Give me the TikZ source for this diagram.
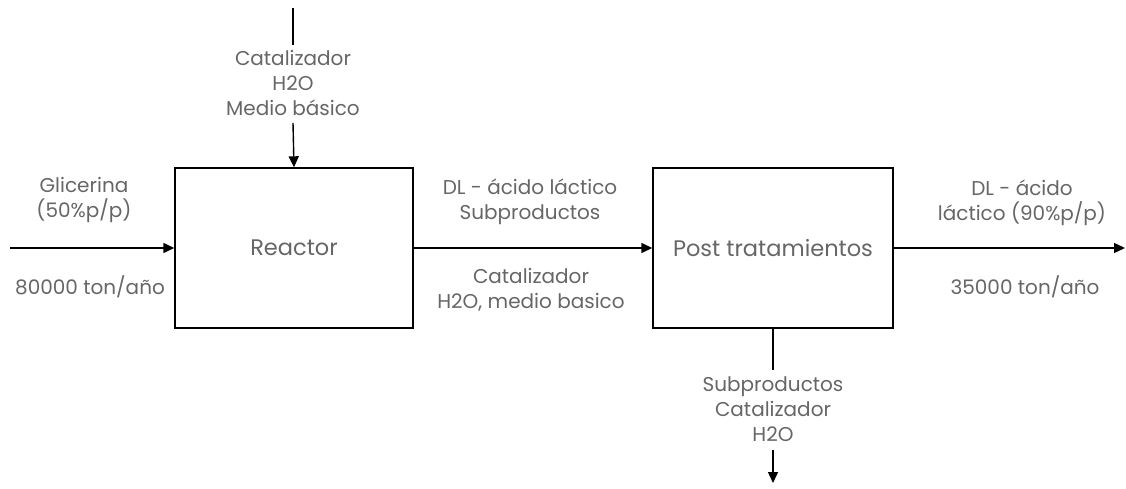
\documentclass[tikz,border=0pt]{standalone}
\usepackage{fontspec}
\setmainfont{Poppins}
\usetikzlibrary{arrows.meta}
\definecolor{txt}{HTML}{666666}
\begin{document}
\begin{tikzpicture}[x=1pt,y=-1pt,
  box/.style={draw, line width=1.4pt, minimum width=238pt, minimum height=160pt, inner sep=0pt, font=\fontsize{22.5}{25}\selectfont, text=txt},
  lbl/.style={text=txt, align=center, font=\fontsize{20}{25}\selectfont, inner sep=0pt},
  flow/.style={line width=1.4pt, -{Triangle[length=11pt,width=10pt]}},
  plain/.style={line width=1.4pt}]
\useasboundingbox (0,0) rectangle (1126,489);
\node[box] (reactor) at (294,248) {Reactor};
\node[box, minimum width=240pt] (post) at (773,248) {Post tratamientos};
\coordinate (inL) at (10,248);
\coordinate (topS) at (293,8);
\coordinate (topE) at (293,45);
\coordinate (topA) at (293,123);
\coordinate (outR) at (1125,248);
\coordinate (botS) at (773,370);
\coordinate (botA) at (773,450);
\coordinate (botE) at (773,483);
\node[lbl] (topT) at (293,83) {Catalizador\\H2O\\Medio básico};
\node[lbl] (botT) at (773,409) {Subproductos\\Catalizador\\H2O};
\node[lbl] (glic) at (84,200) {Glicerina\\(50\%p/p)};
\node[lbl] (m1) at (90,287) {80000 ton/año};
\node[lbl] (dl) at (530,202) {DL - ácido láctico\\Subproductos};
\node[lbl] (cat) at (531,290) {Catalizador\\H2O, medio basico};
\node[lbl] (dl2) at (1022,203) {DL - ácido\\láctico (90\%p/p)};
\node[lbl] (m2) at (1025,287) {35000 ton/año};
\draw[flow] (inL) -- (reactor.west);
\draw[plain] (topS) -- (topE);
\draw[flow] (topA) -- (reactor.north);
\draw[flow] (reactor.east) -- (post.west);
\draw[flow] (post.east) -- (outR);
\draw[plain] (post.south) -- (botS);
\draw[flow] (botA) -- (botE);
\end{tikzpicture}
\end{document}
